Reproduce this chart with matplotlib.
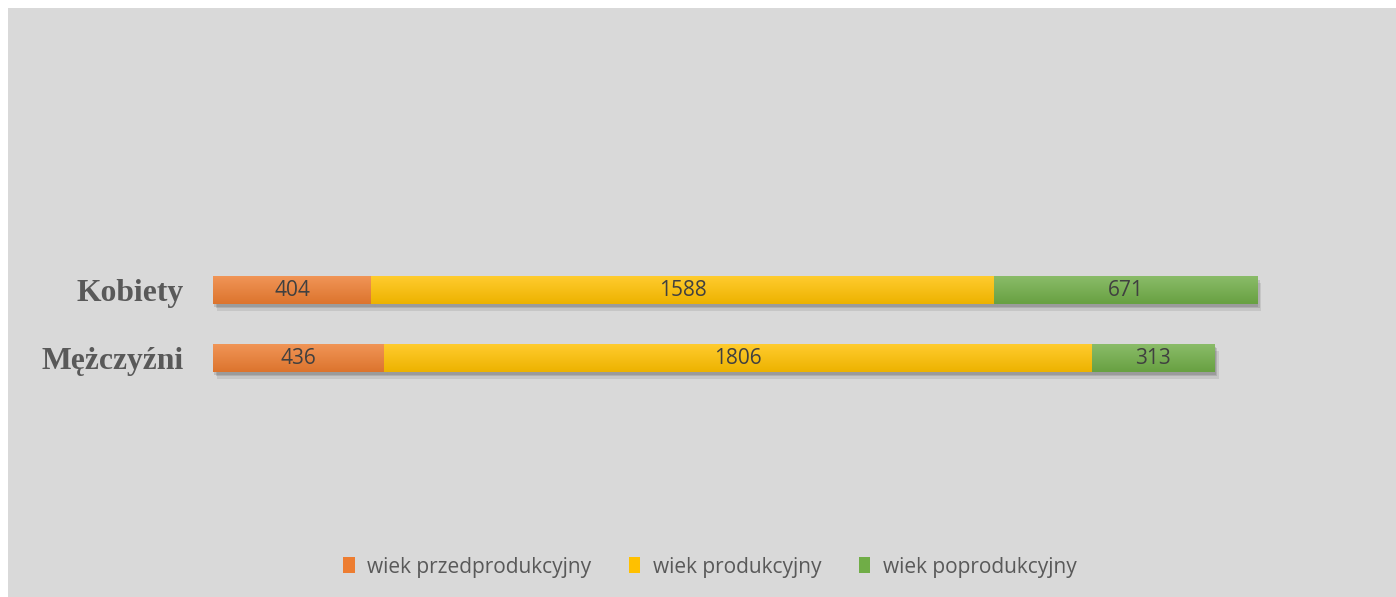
import matplotlib
matplotlib.use("Agg")
import matplotlib.pyplot as plt
import matplotlib.patheffects as pe
import matplotlib.colors as mcolors
from matplotlib.patches import Rectangle, Patch
import numpy as np

categories = ["Mężczyźni", "Kobiety"]
series_names = ["wiek przedprodukcyjny", "wiek produkcyjny", "wiek poprodukcyjny"]
przed = [436, 404]
prod = [1806, 1588]
popro = [313, 671]
colors = ["#ED7D31", "#FFC000", "#70AD47"]

W, H = 1396, 597
fig = plt.figure(figsize=(W / 100, H / 100), dpi=100)
fig.patch.set_facecolor("white")
fig.patches.append(Rectangle((8 / W, 0), 1 - 8 / W, (H - 8) / H,
                             transform=fig.transFigure, facecolor="#D9D9D9",
                             edgecolor="none", zorder=-5))

# axes geometry (pixels from top)
ax_left, ax_right = 213, 213 + 1176
ax_top, ax_bot = 200, 450
ax = fig.add_axes([ax_left / W, 1 - ax_bot / H, (ax_right - ax_left) / W, (ax_bot - ax_top) / H])
ax.set_zorder(2)
ax.set_facecolor("none")
xlim = (0, 3000)
ylim = (-(450 - 358) / 68, 1 + (290 - 200) / 68)

def gradient(col):
    base = np.array(mcolors.to_rgb(col))
    top = base + (1 - base) * 0.18
    bot = base * 0.93
    t = np.linspace(0, 1, 32)[:, None]
    return (top * (1 - t) + bot * t)[:, None, :]

y = np.arange(len(categories))
left = np.zeros(len(categories))
bar_h = 28 / 68
shadow = [pe.SimplePatchShadow(offset=(1, -2), shadow_rgbFace="#444444", alpha=0.18),
          pe.SimplePatchShadow(offset=(2, -3), shadow_rgbFace="#444444", alpha=0.18),
          pe.SimplePatchShadow(offset=(3, -5), shadow_rgbFace="#444444", alpha=0.12),
          pe.Normal()]
for vals, col in zip([przed, prod, popro], colors):
    vals = np.array(vals)
    bars = ax.barh(y, vals, left=left, height=bar_h, color=col, edgecolor="none", zorder=2)
    for yi, (b, l, v) in enumerate(zip(bars, left, vals)):
        b.set_path_effects(shadow)
        im = ax.imshow(gradient(col), extent=(l, l + v, yi - bar_h / 2, yi + bar_h / 2),
                       aspect="auto", origin="upper", zorder=2.5, interpolation="bilinear")
        im.set_clip_path(b)
        ax.text(l + v / 2, yi, str(v), ha="center", va="center", color="#404040",
                fontsize=15, family="Open Sans", zorder=3)
    left = left + vals

ax.set_xlim(*xlim)
ax.set_ylim(*ylim)
ax.set_yticks(y)
ax.set_yticklabels(categories, family="Liberation Serif", fontweight="bold",
                   fontsize=22.8, color="#595959")
ax.tick_params(axis="y", length=0, pad=21)
ax.set_xticks([])
for s in ax.spines.values():
    s.set_visible(False)

handles = [Patch(facecolor=c, edgecolor="none") for c in colors]
leg = fig.legend(handles, series_names, loc="center", bbox_to_anchor=(710 / W, 1 - 567 / H),
                 ncol=3, frameon=False, handlelength=0.55, handleheight=0.8,
                 handletextpad=0.6, columnspacing=1.8, prop={"family": "Open Sans", "size": 15})
for t in leg.get_texts():
    t.set_color("#595959")

fig.savefig("out.png", dpi=100)
